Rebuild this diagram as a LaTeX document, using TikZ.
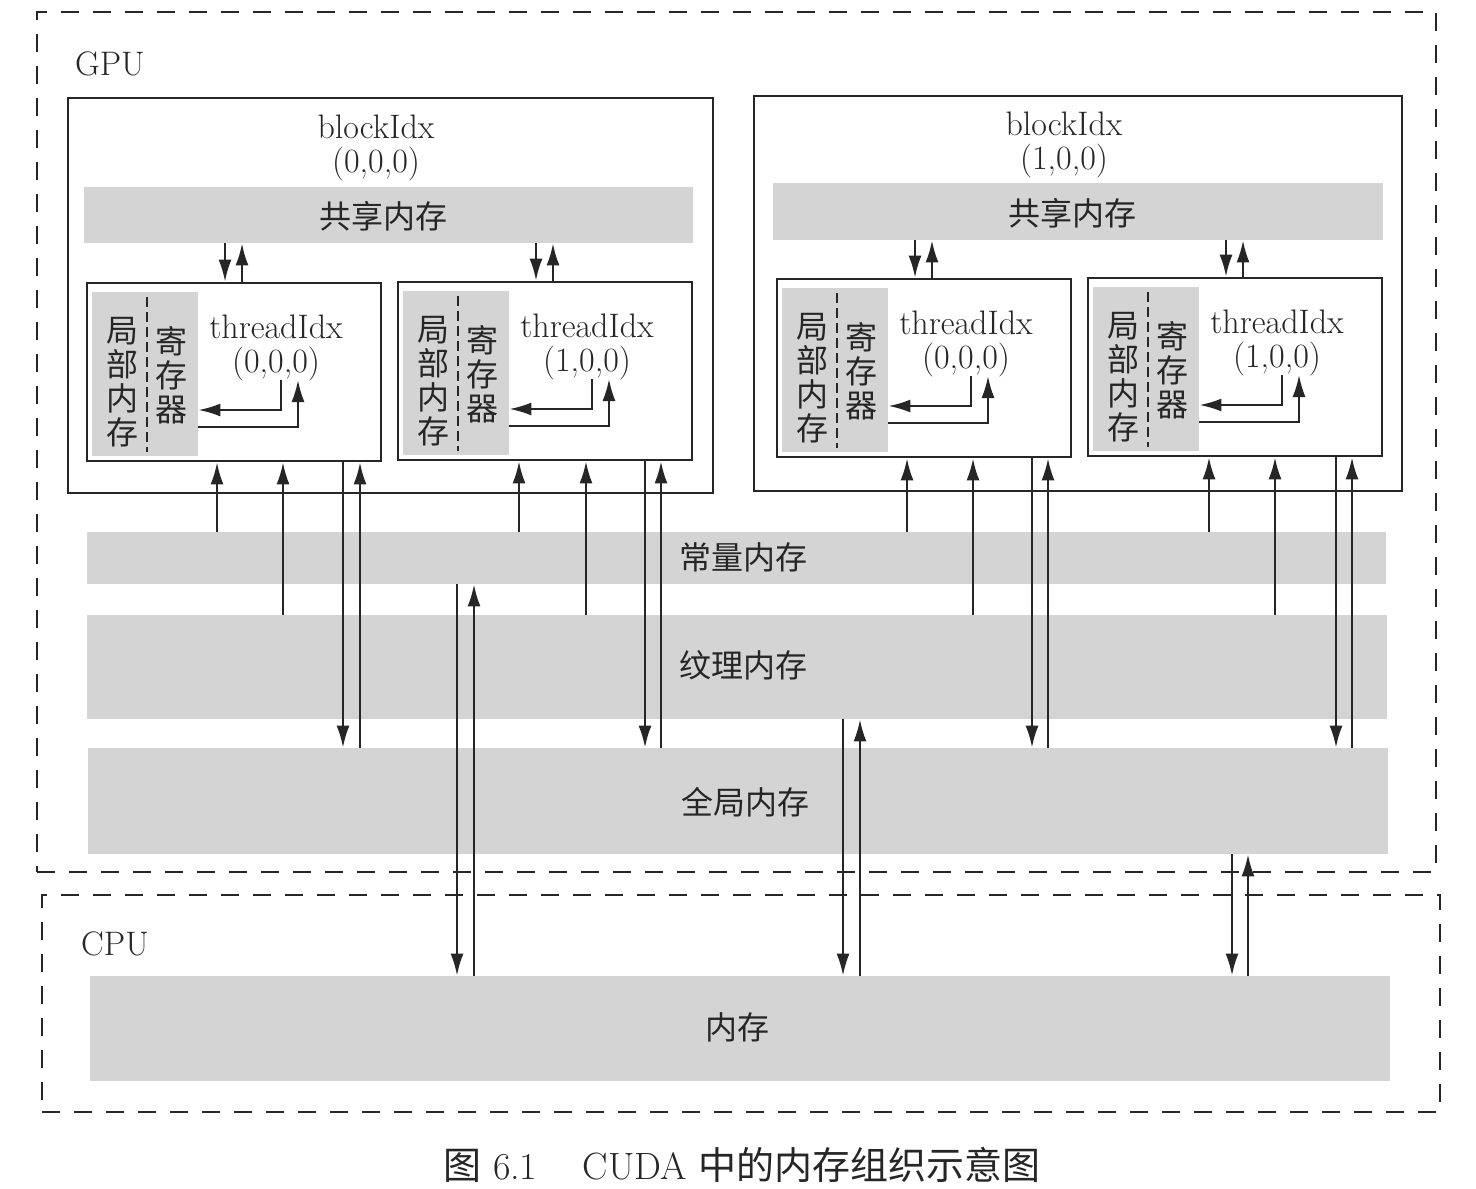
\documentclass[tikz,border=0pt]{standalone}
\usepackage{fontspec}
\newfontfamily\cjk{Noto Sans CJK SC}
\usetikzlibrary{arrows.meta,fit}
\newcommand\thrbox[5]{% #1 name, #2 x0, #3 y0, #4 index, #5 shared band
\begin{scope}[shift={(#2,#3)}]
  \node[thbox, fit={(0,0) (294,178)}] (#1) {};
  \node[band, fit={(5,9) (111,173)}] (#1l) {};
  \draw[line width=1pt, dash pattern=on 5pt off 2.5pt] (60,14) -- (60,169);
  \node[zh, align=center] (#1a) at (35,99) {局\\部\\内\\存};
  \node[zh, align=center] (#1r) at (84,92) {寄\\存\\器};
  \node[lat, align=center] (#1i) at (189,65) {threadIdx\\#4};
  \draw[arr] (194,97) -- (194,127) -- (#1l.east |- 0,127);
  \draw[arr] (#1l.east |- 0,144) -- (211,144) -- (211,97);
  \draw[arr] (138,0 |- #5.south) -- (138,0 |- #1.north);
  \draw[arr] (155,0 |- #1.north) -- (155,0 |- #5.south);
\end{scope}}
\begin{document}
\begin{tikzpicture}[x=0.5pt,y=-0.5pt,color=black!85,
  band/.style={fill=black!17, draw=none, inner sep=0pt},
  dashbox/.style={draw, line width=1.1pt, dash pattern=on 9pt off 7pt, inner sep=0pt},
  blockbox/.style={draw, line width=1.4pt, inner sep=0pt},
  thbox/.style={draw, line width=1.4pt, inner sep=0pt},
  arr/.style={line width=1.1pt, -{Latex[length=11pt,width=6.5pt]}},
  lat/.style={font=\fontsize{17}{17}\selectfont, inner sep=0pt},
  zh/.style={font=\cjk\fontsize{16}{17}\selectfont, inner sep=0pt},
]
\path[use as bounding box, fill=white] (0,0) rectangle (1476,1188);

% GPU and CPU frames
\node[dashbox, fit={(37,12) (1436,872)}] (gpu) {};
\node[dashbox, fit={(42,895) (1440,1112)}] (cpu) {};
\node[lat] (gpul) at (110,64) {GPU};
\node[lat] (cpul) at (115,944) {CPU};

% blocks
\node[blockbox, fit={(68,98) (713,493)}] (b0) {};
\node[blockbox, fit={(754,96) (1402,491)}] (b1) {};
\node[lat, align=center] (b0l) at (376,148) {blockIdx\\(0,0,0)};
\node[lat, align=center] (b1l) at (1064,145) {blockIdx\\(1,0,0)};

% shared memory
\node[band, fit={(84,187) (693,243)}] (sh0) {};
\node[band, fit={(773,183) (1383,240)}] (sh1) {};
\node[zh] (sh0l) at (383,216) {共享内存};
\node[zh] (sh1l) at (1072,213) {共享内存};

% memory bands
\node[band, fit={(87,532) (1386,584)}] (cmem) {};
\node[band, fit={(87,615) (1387,719)}] (tmem) {};
\node[band, fit={(88,748) (1388,854)}] (gmem) {};
\node[band, fit={(90,976) (1390,1081)}] (hmem) {};
\node[zh] (cmeml) at (743,557) {常量内存};
\node[zh] (tmeml) at (743,665) {纹理内存};
\node[zh] (gmeml) at (745,802) {全局内存};
\node[zh] (hmeml) at (737,1027) {内存};

% threads
\thrbox{t00}{87}{283}{(0,0,0)}{sh0}
\thrbox{t01}{398}{282}{(1,0,0)}{sh0}
\thrbox{t10}{777}{279}{(0,0,0)}{sh1}
\thrbox{t11}{1088}{278}{(1,0,0)}{sh1}

% thread <-> constant / texture / global
\foreach \t/\a/\b/\c/\d in {t00/217/283/343/360, t01/519/586/645/661, t10/907/973/1032/1048, t11/1209/1275/1336/1352}{
  \draw[arr] (\a,0 |- cmem.north) -- (\a,0 |- \t.south);
  \draw[arr] (\b,0 |- tmem.north) -- (\b,0 |- \t.south);
  \draw[arr] (\c,0 |- \t.south) -- (\c,0 |- gmem.north);
  \draw[arr] (\d,0 |- gmem.north) -- (\d,0 |- \t.south);
}

% host <-> device
\draw[arr] (457,0 |- cmem.south) -- (457,0 |- hmem.north);
\draw[arr] (474,0 |- hmem.north) -- (474,0 |- cmem.south);
\draw[arr] (843,0 |- tmem.south) -- (843,0 |- hmem.north);
\draw[arr] (860,0 |- hmem.north) -- (860,0 |- tmem.south);
\draw[arr] (1232,0 |- gmem.south) -- (1232,0 |- hmem.north);
\draw[arr] (1248,0 |- hmem.north) -- (1248,0 |- gmem.south);

% caption
\node[font=\fontsize{19}{21}\selectfont, inner sep=0pt] (cap) at (742,1165)
  {{\cjk 图}\ 6.1\hspace{1.2em}CUDA {\cjk 中的内存组织示意图}};
\end{tikzpicture}
\end{document}
